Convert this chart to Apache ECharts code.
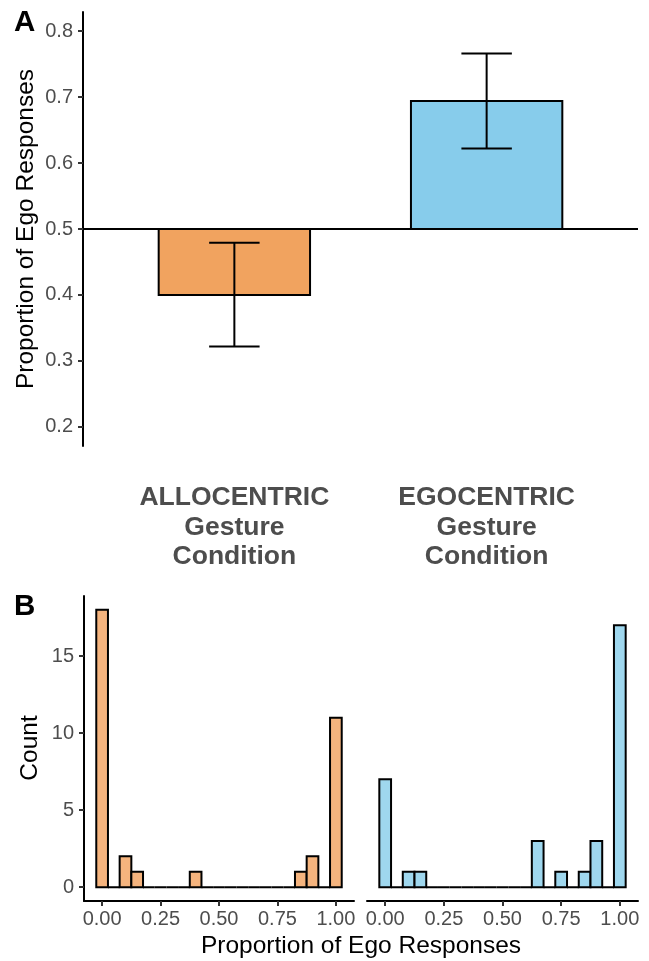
<!DOCTYPE html>
<html><head><meta charset="utf-8">
<script src="https://cdn.jsdelivr.net/npm/echarts@6/dist/echarts.min.js"></script>
<style>html,body{margin:0;padding:0;background:#fff}#c{width:649px;height:961px}</style>
</head><body><div id="c"></div>
<script>
// ---- Panel A data ----
const conditions = ['ALLOCENTRIC\nGesture\nCondition', 'EGOCENTRIC\nGesture\nCondition'];
const conditionPos = [1, 2];
const meanEgo = [0.400, 0.694];
const errLow = [0.322, 0.622];
const errHigh = [0.479, 0.766];
const refLevel = 0.5;
const yTicksA = [0.2, 0.3, 0.4, 0.5, 0.6, 0.7, 0.8];
const barColors = ['#F1A35F', '#87CCEB'];

// ---- Panel B data ----
const binWidth = 0.05;
const binCenters = [0, 0.05, 0.10, 0.15, 0.20, 0.25, 0.30, 0.35, 0.40, 0.45, 0.50,
                    0.55, 0.60, 0.65, 0.70, 0.75, 0.80, 0.85, 0.90, 0.95, 1.00];
const countsAllo = [18, 0, 2, 1, 0, 0, 0, 0, 1, 0, 0, 0, 0, 0, 0, 0, 0, 1, 2, 0, 11];
const countsEgo  = [7, 0, 1, 1, 0, 0, 0, 0, 0, 0, 0, 0, 0, 3, 0, 1, 0, 1, 3, 0, 17];
const xTicksB = [0, 0.25, 0.5, 0.75, 1.0];
const yTicksB = [0, 5, 10, 15];
const histColors = ['#F5B47E', '#9FD7EE'];

const FONT = 'Liberation Sans';
const TICK_COLOR = '#4D4D4D';
const LW = 2;

const chart = echarts.init(document.getElementById('c'), null, {renderer: 'canvas'});

function histSeries(idx, counts, color) {
  return {
    type: 'custom', xAxisIndex: idx, yAxisIndex: idx, clip: false,
    data: binCenters.map((b, i) => [b, counts[i]]),
    renderItem: function (params, api) {
      const x = api.value(0), c = api.value(1);
      const p0 = api.coord([x - binWidth / 2, 0]);
      const p1 = api.coord([x + binWidth / 2, c]);
      return {
        type: 'rect',
        shape: {x: p0[0], y: p1[1], width: p1[0] - p0[0], height: p0[1] - p1[1]},
        style: {fill: color, stroke: '#000', lineWidth: LW}
      };
    }
  };
}

const bottomXAxis = (idx) => ({
  type: 'value', gridIndex: idx, min: -0.0775, max: 1.0775,
  axisLine: {show: true, onZero: false, lineStyle: {color: '#000', width: LW}},
  axisTick: {show: true, customValues: xTicksB, length: 5, lineStyle: {color: '#333', width: LW}},
  axisLabel: {customValues: xTicksB, formatter: v => v.toFixed(2), fontFamily: FONT, fontSize: 20, color: TICK_COLOR, margin: 8},
  splitLine: {show: false}
});

const option = {
  animation: false,
  backgroundColor: '#fff',
  grid: [
    {left: 83, top: 12, width: 555, height: 434},
    {left: 84, top: 596, width: 270, height: 305},
    {left: 367, top: 596, width: 271, height: 305}
  ],
  xAxis: [
    {
      type: 'value', gridIndex: 0, min: 0.4, max: 2.6,
      axisLine: {show: false}, axisTick: {show: false}, splitLine: {show: false},
      axisLabel: {
        customValues: conditionPos,
        formatter: v => conditions[conditionPos.indexOf(v)],
        fontFamily: FONT, fontWeight: 'bold', fontSize: 26.5, lineHeight: 29.5,
        color: TICK_COLOR, margin: 37, align: 'center'
      }
    },
    bottomXAxis(1),
    bottomXAxis(2)
  ],
  yAxis: [
    {
      type: 'value', gridIndex: 0, min: 0.171, max: 0.829,
      axisLine: {show: true, onZero: false, lineStyle: {color: '#000', width: LW}},
      axisTick: {show: true, customValues: yTicksA, length: 5, lineStyle: {color: '#333', width: LW}},
      axisLabel: {customValues: yTicksA, formatter: v => v.toFixed(1), fontFamily: FONT, fontSize: 20, color: TICK_COLOR, margin: 10},
      splitLine: {show: false}
    },
    {
      type: 'value', gridIndex: 1, min: -0.9, max: 18.9,
      axisLine: {show: true, onZero: false, lineStyle: {color: '#000', width: LW}},
      axisTick: {show: true, customValues: yTicksB, length: 5, lineStyle: {color: '#333', width: LW}},
      axisLabel: {customValues: yTicksB, formatter: v => String(v), fontFamily: FONT, fontSize: 20, color: TICK_COLOR, margin: 10},
      splitLine: {show: false}
    },
    {
      type: 'value', gridIndex: 2, min: -0.9, max: 18.9, show: false
    }
  ],
  series: [
    {
      type: 'custom', xAxisIndex: 0, yAxisIndex: 0, clip: false,
      data: conditionPos.map((p, i) => [p, meanEgo[i], errLow[i], errHigh[i]]),
      renderItem: function (params, api) {
        const x = api.value(0), v = api.value(1), lo = api.value(2), hi = api.value(3);
        const base = api.coord([x, refLevel]);
        const top = api.coord([x, v]);
        const bw = api.size([0.6, 0])[0];
        const cw = api.size([0.2, 0])[0];
        const pLo = api.coord([x, lo]);
        const pHi = api.coord([x, hi]);
        const ls = {stroke: '#000', lineWidth: LW};
        return {
          type: 'group',
          children: [
            {type: 'rect', shape: {x: base[0] - bw / 2, y: Math.min(base[1], top[1]), width: bw, height: Math.abs(base[1] - top[1])},
             style: {fill: barColors[params.dataIndex], stroke: '#000', lineWidth: LW}},
            {type: 'line', shape: {x1: pLo[0], y1: pLo[1], x2: pHi[0], y2: pHi[1]}, style: ls},
            {type: 'line', shape: {x1: pLo[0] - cw / 2, y1: pLo[1], x2: pLo[0] + cw / 2, y2: pLo[1]}, style: ls},
            {type: 'line', shape: {x1: pHi[0] - cw / 2, y1: pHi[1], x2: pHi[0] + cw / 2, y2: pHi[1]}, style: ls}
          ]
        };
      },
      markLine: {
        silent: true, symbol: ['none', 'none'], label: {show: false},
        lineStyle: {color: '#000', width: LW, type: 'solid'},
        data: [{yAxis: refLevel}]
      }
    },
    histSeries(1, countsAllo, histColors[0]),
    histSeries(2, countsEgo, histColors[1])
  ],
  graphic: [
    {type: 'text', x: 14, y: 23, style: {text: 'A', fontFamily: FONT, fontWeight: 'bold', fontSize: 29.5, fill: '#000', align: 'left', verticalAlign: 'middle'}},
    {type: 'text', x: 14, y: 607, style: {text: 'B', fontFamily: FONT, fontWeight: 'bold', fontSize: 29.5, fill: '#000', align: 'left', verticalAlign: 'middle'}},
    {type: 'text', x: 26, y: 229, rotation: Math.PI / 2, style: {text: 'Proportion of Ego Responses', fontFamily: FONT, fontSize: 24.5, fill: '#000', align: 'center', verticalAlign: 'middle'}},
    {type: 'text', x: 30, y: 748, rotation: Math.PI / 2, style: {text: 'Count', fontFamily: FONT, fontSize: 24.5, fill: '#000', align: 'center', verticalAlign: 'middle'}},
    {type: 'text', x: 361, y: 946, style: {text: 'Proportion of Ego Responses', fontFamily: FONT, fontSize: 24.5, fill: '#000', align: 'center', verticalAlign: 'middle'}}
  ]
};
chart.setOption(option);
</script>
</body></html>
